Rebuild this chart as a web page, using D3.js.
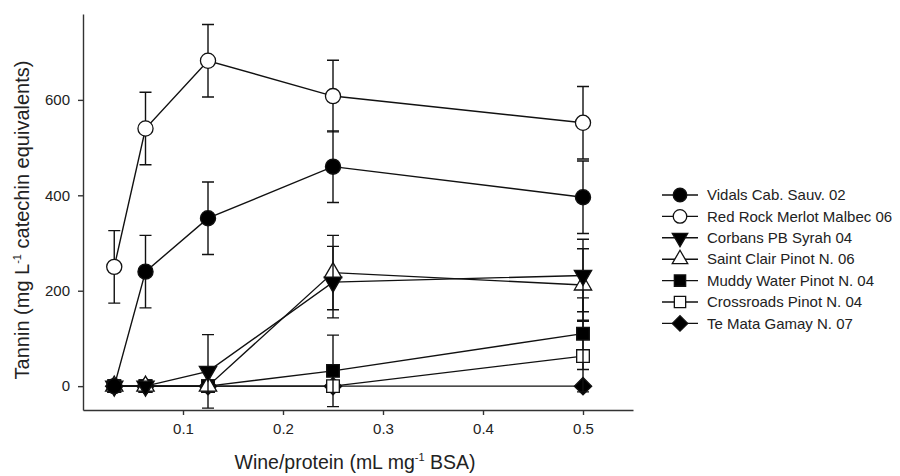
<!DOCTYPE html>
<meta charset="utf-8">
<style type="text/css">
  body { margin: 0; background: #fff; }
  text { font-family: "Liberation Sans", Arial, sans-serif; fill: #222; }
  .axis path, .axis line { stroke: #333; stroke-width: 1.4px; }
  .axis text { font-size: 15px; }
</style>
<body>
</body>
<script src="https://d3js.org/d3.v7.min.js"></script>
<script>
// wine/protein ratios on the x axis
var ratios = [0.03125, 0.0625, 0.125, 0.25, 0.5];

// tannin values and error bars for each wine
var vidals = [0, 240, 352, 460, 396];
var vidalsErr = [0, 76, 76, 75, 76];
var redRock = [250, 540, 682, 608, 552];
var redRockErr = [76, 76, 76, 75, 76];
var corbans = [0, 0, 31, 218, 232];
var corbansErr = [0, 0, 77, 75, 76];
var saintClair = [0, 0, 0, 238, 212];
var saintClairErr = [0, 0, 0, 78, 76];
var muddy = [0, 0, 0, 32, 110];
var muddyErr = [0, 0, 0, 75, 75];
var crossroads = [0, 0, 0, 0, 63];
var crossroadsErr = [0, 0, 0, 0, 75];
var teMata = [0, 0, 0, 0, 0];
var teMataErr = [0, 0, 0, 0, 0];

var names = ["Vidals Cab. Sauv. 02", "Red Rock Merlot Malbec 06", "Corbans PB Syrah 04",
             "Saint Clair Pinot N. 06", "Muddy Water Pinot N. 04", "Crossroads Pinot N. 04",
             "Te Mata Gamay N. 07"];
var values = [vidals, redRock, corbans, saintClair, muddy, crossroads, teMata];
var errors = [vidalsErr, redRockErr, corbansErr, saintClairErr, muddyErr, crossroadsErr, teMataErr];

var xTicks = [0.1, 0.2, 0.3, 0.4, 0.5];
var yTicks = [0, 200, 400, 600];

// marker style per series: shape, filled, rotation
var markers = [
  {type: d3.symbolCircle, size: 180, fill: "#000", rot: 0},
  {type: d3.symbolCircle, size: 180, fill: "#fff", rot: 0},
  {type: d3.symbolTriangle, size: 130, fill: "#000", rot: 180},
  {type: d3.symbolTriangle, size: 130, fill: "#fff", rot: 0},
  {type: d3.symbolSquare, size: 160, fill: "#000", rot: 0},
  {type: d3.symbolSquare, size: 160, fill: "#fff", rot: 0},
  {type: d3.symbolSquare, size: 150, fill: "#000", rot: 45}
];

var series = names.map(function(n, i) {
  return {name: n, style: markers[i], pts: ratios.map(function(r, j) {
    return {x: r, y: values[i][j], e: errors[i][j]};
  })};
});

var svg = d3.select("body").append("svg")
    .attr("width", 900)
    .attr("height", 476);

var x = d3.scaleLinear().domain([0, 0.55]).range([83, 633]);
var y = d3.scaleLinear().domain([-50, 780]).range([410, 14]);

// axes - only left and bottom lines
svg.append("g")
    .attr("class", "axis")
    .attr("transform", "translate(0,410)")
    .call(d3.axisBottom(x).tickValues(xTicks).tickFormat(d3.format(".1f"))
      .tickSize(5).tickSizeOuter(0).tickPadding(8));

svg.append("g")
    .attr("class", "axis")
    .attr("transform", "translate(83,0)")
    .call(d3.axisLeft(y).tickValues(yTicks).tickSize(5).tickSizeOuter(0).tickPadding(8));

// axis titles
var xt = svg.append("text")
    .attr("x", 355).attr("y", 469)
    .attr("text-anchor", "middle")
    .style("font-size", "19.5px");
xt.append("tspan").text("Wine/protein (mL mg");
xt.append("tspan").attr("dy", -8).style("font-size", "11px").text("-1");
xt.append("tspan").attr("dy", 8).text(" BSA)");

var yt = svg.append("text")
    .attr("transform", "translate(29,220) rotate(-90)")
    .attr("text-anchor", "middle")
    .style("font-size", "20px");
yt.append("tspan").text("Tannin (mg L");
yt.append("tspan").attr("dy", -8).style("font-size", "11px").text("-1");
yt.append("tspan").attr("dy", 8).text(" catechin equivalents)");

var line = d3.line()
    .x(function(d) { return x(d.x); })
    .y(function(d) { return y(d.y); });

var sym = d3.symbol();

// draw back to front so Vidals ends up on top
var gs = svg.selectAll(".series")
    .data(series.slice().reverse())
    .enter().append("g")
    .attr("class", "series");

gs.append("path")
    .attr("d", function(d) { return line(d.pts); })
    .attr("fill", "none")
    .attr("stroke", "#111")
    .attr("stroke-width", 1.4);

gs.each(function(s) {
  var g = d3.select(this);
  var eb = s.pts.filter(function(p) { return p.e > 0; });
  g.selectAll(".err").data(eb).enter().append("path")
      .attr("class", "err")
      .attr("fill", "none")
      .attr("stroke", "#111")
      .attr("stroke-width", 1.4)
      .attr("d", function(p) {
        var cx = x(p.x), t = y(p.y + p.e), b = y(p.y - p.e);
        return "M" + cx + "," + t + "V" + b +
               "M" + (cx - 6) + "," + t + "H" + (cx + 6) +
               "M" + (cx - 6) + "," + b + "H" + (cx + 6);
      });
  g.selectAll(".pt").data(s.pts).enter().append("path")
      .attr("class", "pt")
      .attr("d", sym.type(s.style.type).size(s.style.size)())
      .attr("transform", function(p) {
        return "translate(" + x(p.x) + "," + y(p.y) + ") rotate(" + s.style.rot + ")";
      })
      .attr("fill", s.style.fill)
      .attr("stroke", "#111")
      .attr("stroke-width", 1.3);
});

// legend
var legend = svg.append("g").attr("transform", "translate(662,195)");
var rows = legend.selectAll(".row")
    .data(series)
    .enter().append("g")
    .attr("class", "row")
    .attr("transform", function(d, i) { return "translate(0," + (i * 21.4) + ")"; });

rows.append("line")
    .attr("x1", 0).attr("x2", 36)
    .attr("stroke", "#111").attr("stroke-width", 1.4);

rows.append("path")
    .attr("d", function(d) { return sym.type(d.style.type).size(d.style.size * 0.8)(); })
    .attr("transform", function(d) { return "translate(18,0) rotate(" + d.style.rot + ")"; })
    .attr("fill", function(d) { return d.style.fill; })
    .attr("stroke", "#111")
    .attr("stroke-width", 1.3);

rows.append("text")
    .attr("x", 45)
    .attr("dy", "0.35em")
    .style("font-size", "15px")
    .text(function(d) { return d.name; });
</script>
